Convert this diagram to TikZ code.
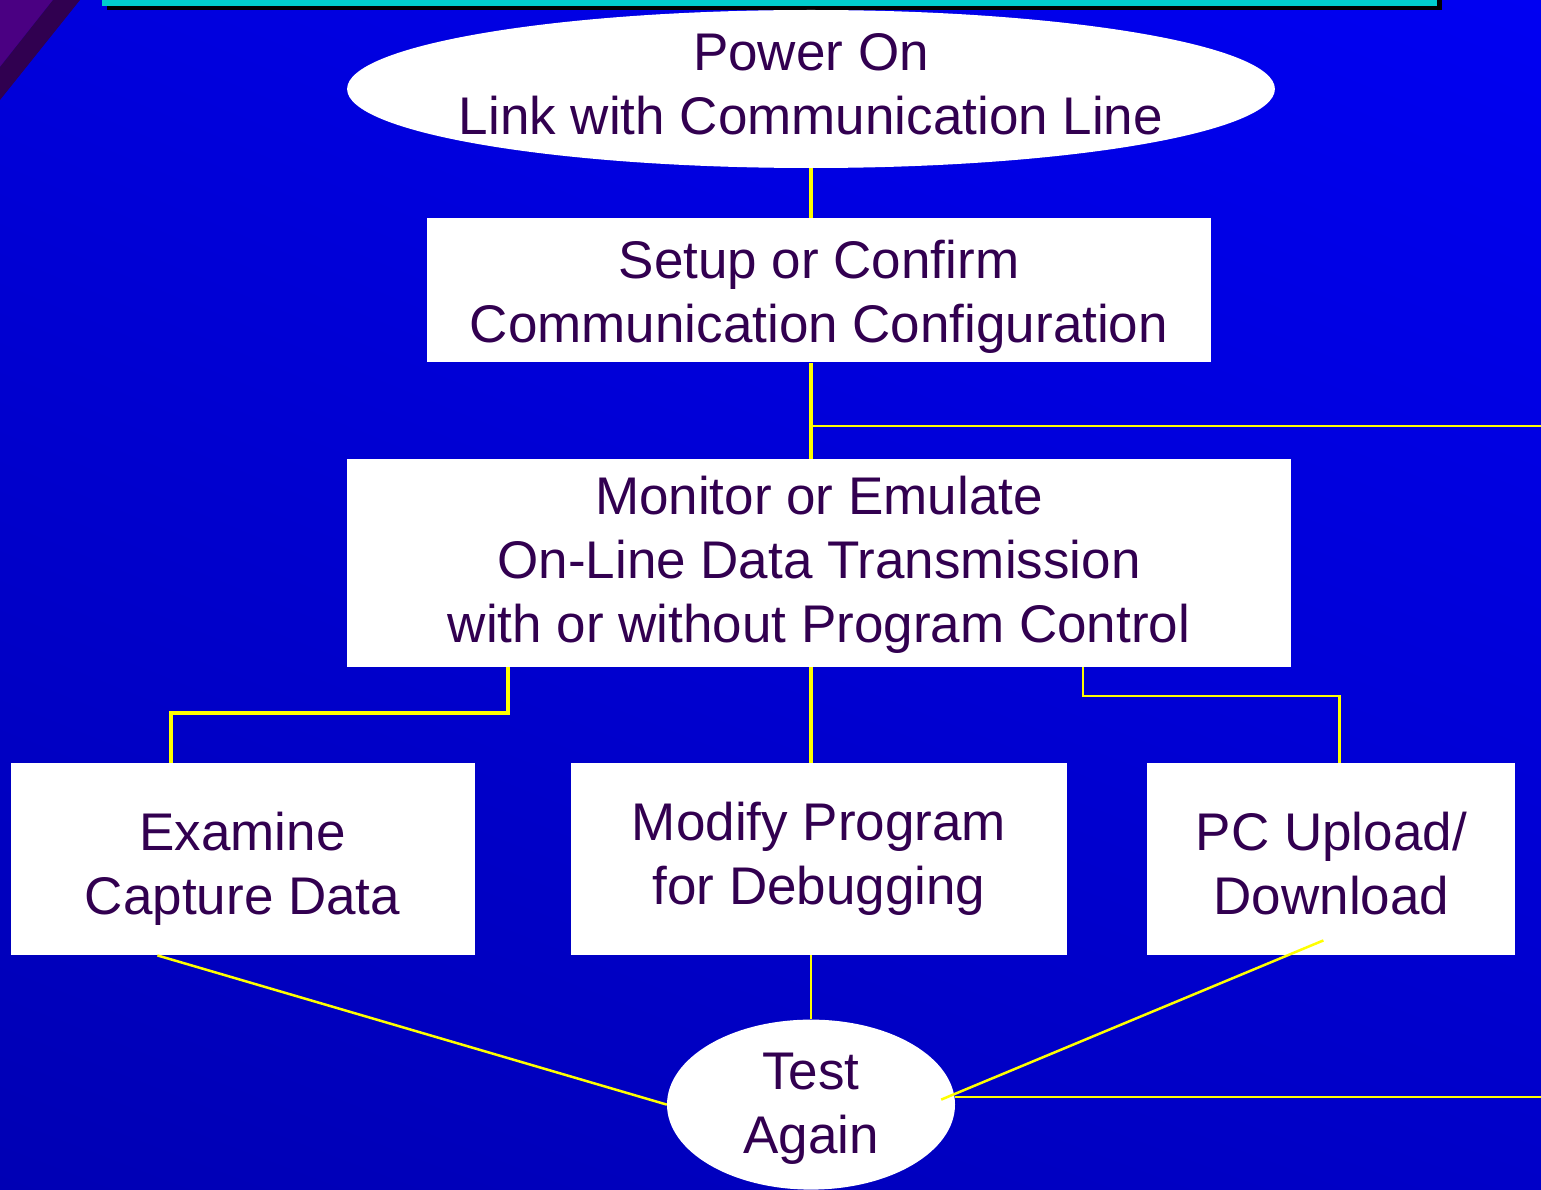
\documentclass[tikz,border=0pt]{standalone}
\usepackage{fontspec}
\setmainfont{Liberation Sans}
\usetikzlibrary{positioning,shapes.geometric,shadings}
\definecolor{FlowInk}{HTML}{320050}
\definecolor{FlowWire}{HTML}{FFFF00}
\definecolor{FlowPlum}{HTML}{4A0082}
\definecolor{FlowDusk}{HTML}{300050}
\definecolor{FlowCyan}{HTML}{00CCCC}
\definecolor{SkyNW}{HTML}{0000DC}
\definecolor{SkyNE}{HTML}{0000F2}
\definecolor{SkySW}{HTML}{0000B4}
\definecolor{SkySE}{HTML}{0000C8}
\begin{document}
\begin{tikzpicture}[x=1pt, y=-1pt, font=\fontsize{53}{64}\selectfont,
  box/.style={fill=white, text=FlowInk, align=center, inner sep=0pt, minimum height=192pt, text depth=0pt},
  oval/.style={box, ellipse},
  wire/.style={draw=FlowWire, line width=4pt},
  thinwire/.style={draw=FlowWire, line width=2.5pt}]
\useasboundingbox (0,0) rectangle (1541,1190);
\shade[upper left=SkyNW, upper right=SkyNE, lower left=SkySW, lower right=SkySE] (0,0) rectangle (1541,1190);
\fill[FlowPlum] (0,0) -- (53,0) -- (0,67) -- cycle;
\fill[FlowDusk] (53,0) -- (80,0) -- (0,100) -- (0,67) -- cycle;
\fill[black] (107,0) rectangle (1442,10);
\fill[FlowCyan] (102,0) rectangle (1437,6);
% boxes
\node[oval, inner xsep=-24pt, minimum height=158pt, text height=92pt] (power) at (811,89) {Power On\\Link with Communication Line};
\node[box, below=50pt of power, xshift=8pt, minimum width=784pt, minimum height=144pt, text height=104pt] (setup) {Setup or Confirm\\Communication Configuration};
\node[box, below=96pt of setup, minimum width=944pt, minimum height=208pt, text height=160pt] (monitor) {Monitor or Emulate\\On-Line Data Transmission\\with or without Program Control};
\node[box, below=96pt of monitor, minimum width=496pt, text height=90pt] (modify) {Modify Program\\for Debugging};
\node[box, left=96pt of modify, minimum width=464pt, text height=110pt] (examine) {Examine\\Capture Data};
\node[box, right=80pt of modify, minimum width=368pt, text height=110pt] (pc) {PC Upload/\\Download};
\node[oval, below=64pt of modify, xshift=-8pt, minimum width=288pt, minimum height=170pt, text height=98pt] (test) {Test\\Again};
\coordinate (branch) at (811,426); \coordinate (exitA) at (1541,426); \coordinate (exitB) at (1541,1097);
% wires
\draw[wire] (power.south) -- (power.south |- setup.north);
\draw[wire] (power.south |- setup.south) -- (power.south |- monitor.north);
\draw[thinwire] (branch) -- (exitA);
\draw[wire] (power.south |- monitor.south) -- (power.south |- modify.north);
\draw[wire] ([xshift=161pt]monitor.south west) -- ++(0,46) -| ([xshift=161pt]examine.north west);
\draw[thinwire] ([xshift=-208pt]monitor.south east) -- ++(0,29) -| ([xshift=8pt]pc.north);
\draw[thinwire] (test.north |- modify.south) -- (test.north);
\draw[thinwire] ([xshift=147pt]examine.south west) -- (test.west);
\draw[thinwire] ([xshift=-8pt,yshift=15pt]pc.south) -- ([xshift=-14pt,yshift=5pt]test.east);
\draw[thinwire] (test.east |- exitB) -- (exitB);
\end{tikzpicture}
\end{document}
